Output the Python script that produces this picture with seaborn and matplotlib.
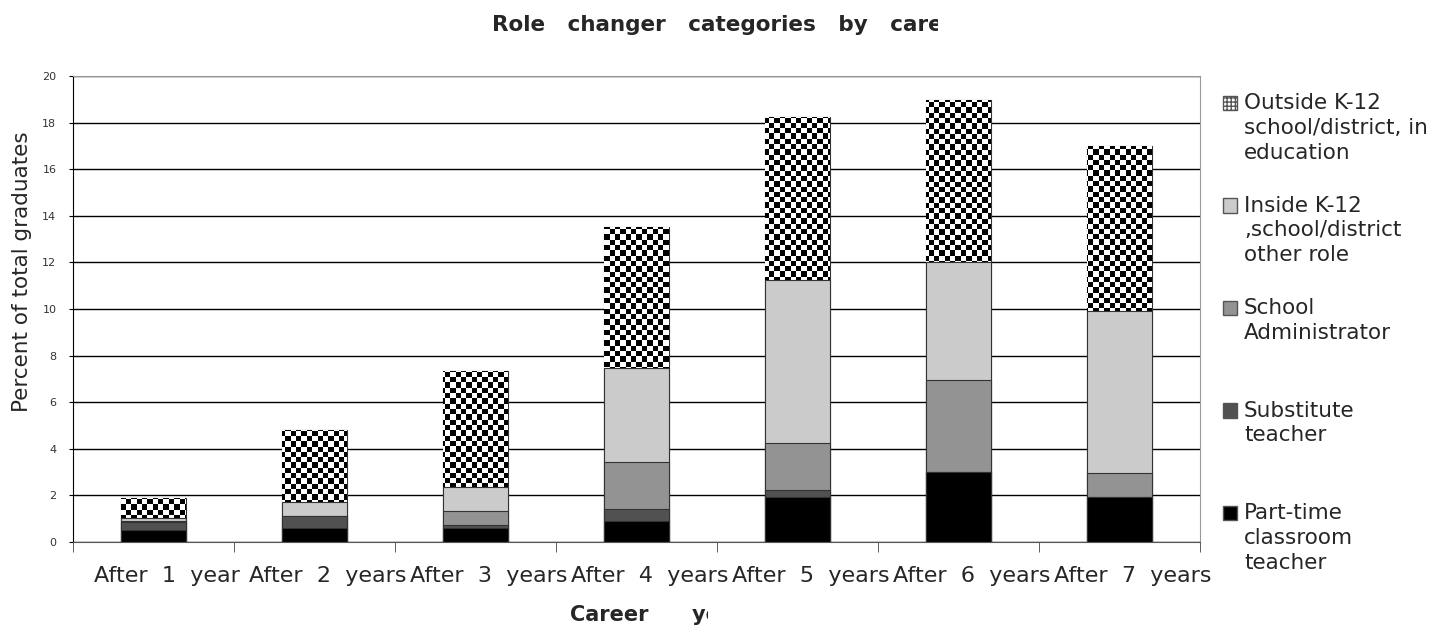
import numpy as np
import pandas as pd
import seaborn as sns
import matplotlib.pyplot as plt
from matplotlib.patches import Patch
from matplotlib.transforms import Bbox, TransformedBbox, ScaledTranslation

years = ["After  1  year", "After  2  years", "After  3  years", "After  4  years",
         "After  5  years", "After  6  years", "After  7  years"]
part_time = [0.5, 0.62, 0.62, 0.9, 1.95, 3.0, 1.95]
substitute = [0.35, 0.48, 0.1, 0.5, 0.3, 0.0, 0.0]
administrator = [0.05, 0.02, 0.6, 2.05, 2.0, 3.95, 1.0]
inside_k12 = [0.15, 0.6, 1.03, 4.0, 7.0, 5.05, 6.95]
outside_k12 = [0.85, 3.08, 5.0, 6.05, 7.0, 6.95, 7.1]

labels = ["Outside K-12\nschool/district, in\neducation",
          "Inside K-12\n,school/district\nother role",
          "School\nAdministrator\n",
          "Substitute\nteacher\n",
          "Part-time\nclassroom\nteacher"]
colors = ["white", "#cbcbcb", "#939393", "#515151", "black"]

df = pd.DataFrame({"year": years, "part": part_time, "sub": substitute,
                   "admin": administrator, "inside": inside_k12, "outside": outside_k12})
layers = ["part", "sub", "admin", "inside", "outside"]
cum = df[layers].cumsum(axis=1)

sns.set_style("white")
fig = plt.figure(figsize=(14.42, 6.33), dpi=100)
ax = fig.add_axes([73 / 1442, 1 - 542 / 633, 1127 / 1442, 466 / 633])

# stacked bars: draw cumulative totals from the top layer down
for i, layer in enumerate(layers[::-1]):
    sns.barplot(x=df["year"], y=cum[layer], color=colors[i], width=0.4,
                edgecolor="#333333", linewidth=0.8, saturation=1,
                zorder=1 if layer == "outside" else 2, ax=ax)
    if layer == "outside":
        outside_bars = list(ax.patches)

# checkerboard fill for the top layer
ny, nx = 88, 212
checker = (np.add.outer(np.arange(ny), np.arange(nx)) % 2).astype(float)
for p in outside_bars:
    im = ax.imshow(checker, extent=(-0.5, 6.5, 0, 20), aspect="auto", cmap="gray",
                   interpolation="nearest", zorder=1.5)
    im.set_clip_path(p)
ax.set_xlim(-0.5, 6.5)
ax.set_ylim(0, 20)

ax.set_axisbelow(True)
ax.yaxis.grid(True, color="black", linewidth=1)
ax.set_yticks(range(0, 21, 2))
ax.tick_params(axis="y", labelsize=8, length=3, pad=9, color="black", labelcolor="#333333",
               direction="out", left=True)
ax.set_xticks(np.arange(-0.5, 7, 1), minor=True)
ax.tick_params(axis="x", which="minor", length=7, color="#444444", direction="out", bottom=True)
ax.tick_params(axis="x", which="major", length=0, labelsize=16, pad=17)
ax.set_xlabel("")
ax.set_ylabel("Percent of total graduates", fontsize=15.5)
ax.yaxis.set_label_coords(-0.036, 0.58)
for side in ["top", "right"]:
    ax.spines[side].set_color("#999999")
ax.spines["left"].set_color("black")
ax.spines["bottom"].set_color("#555555")

# tick labels sit a bit right of centre and are cut at the legend edge
shift = ScaledTranslation(13 / 100, 0, fig.dpi_scale_trans)
tick_clip = TransformedBbox(Bbox([[0.01, 0.01], [1211 / 1442, 0.99]]), fig.transFigure)
for lab in ax.get_xticklabels():
    lab.set_transform(lab.get_transform() + shift)
    lab.set_clip_box(tick_clip)
    lab.set_clip_on(True)

handles = [Patch(facecolor="white", edgecolor="#555555", hatch="++++")] + \
          [Patch(facecolor=c, edgecolor="#555555") for c in colors[1:]]
leg = fig.legend(handles, labels, loc="upper left", bbox_to_anchor=(1223 / 1442, 1 - 93 / 633),
                 frameon=False, fontsize=15.5, handlelength=0.65, handleheight=0.65,
                 handletextpad=0.33, labelspacing=1.53, borderpad=0, borderaxespad=0)
for t in leg.get_texts():
    t.set_linespacing(1.3)
for h in leg.legend_handles:
    h.set_y(h.get_y() + 18.3)

title = fig.text(492 / 1442, 1 - 31 / 633, "Role   changer   categories   by   career   year",
                 ha="left", va="baseline", fontsize=15.5, fontweight="bold")
title.set_clip_box(TransformedBbox(Bbox([[0.01, 0.01], [938 / 1442, 0.99]]), fig.transFigure))
title.set_clip_on(True)

xlab = fig.text(570 / 1442, 1 - 615 / 633, "Career      year", ha="left", va="center",
                fontsize=15, fontweight="bold")
xlab.set_clip_box(TransformedBbox(Bbox([[0.01, 0.01], [708 / 1442, 0.99]]), fig.transFigure))
xlab.set_clip_on(True)

plt.savefig("out.png", dpi=100)
